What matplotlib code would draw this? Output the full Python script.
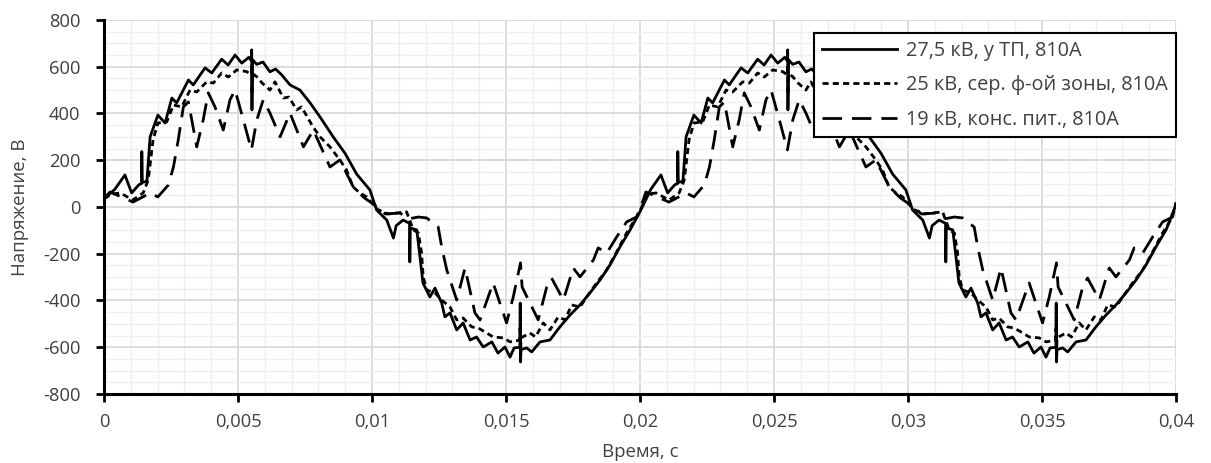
import matplotlib
matplotlib.use("Agg")
import matplotlib.pyplot as plt
from matplotlib.ticker import MultipleLocator, FixedLocator, FixedFormatter

plt.rcParams['font.family'] = ['Open Sans', 'DejaVu Sans']

# time in ms, voltage in V (two periods of 20 ms)
t_275 = [0.00, 0.40, 0.78, 1.03, 1.30, 1.40, 1.41, 1.43, 1.60, 1.72,
         2.01, 2.28, 2.53, 2.71, 3.15, 3.33, 3.77, 4.02, 4.39, 4.63,
         4.89, 5.14, 5.40, 5.50, 5.51, 5.52, 5.54, 5.70, 5.93, 6.19,
         6.40, 6.63, 6.94, 7.31, 7.69, 8.06, 8.55, 8.99, 9.43, 9.92,
         10.17, 10.55, 10.80, 10.90, 11.16, 11.40, 11.41, 11.43, 11.67, 11.79,
         11.90, 12.16, 12.35, 12.60, 12.72, 12.91, 13.16, 13.40, 13.66, 13.90,
         14.15, 14.47, 14.70, 14.96, 15.15, 15.30, 15.52, 15.53, 15.54, 15.56,
         15.77, 15.96, 16.27, 16.64, 17.01, 17.39, 17.76, 18.13, 18.51, 18.88,
         19.25, 19.63, 20.00,
         20.40, 20.78, 21.03, 21.30, 21.40, 21.41, 21.43, 21.60, 21.72,
         22.01, 22.28, 22.53, 22.71, 23.15, 23.33, 23.77, 24.02, 24.39, 24.63,
         24.89, 25.14, 25.40, 25.50, 25.51, 25.52, 25.54, 25.70, 25.93, 26.19,
         26.40, 26.63, 26.94, 27.31, 27.69, 28.06, 28.55, 28.99, 29.43, 29.92,
         30.17, 30.55, 30.80, 30.90, 31.16, 31.40, 31.41, 31.43, 31.67, 31.79,
         31.90, 32.16, 32.35, 32.60, 32.72, 32.91, 33.16, 33.40, 33.66, 33.90,
         34.15, 34.47, 34.70, 34.96, 35.15, 35.30, 35.52, 35.53, 35.54, 35.56,
         35.77, 35.96, 36.27, 36.64, 37.01, 37.39, 37.76, 38.13, 38.51, 38.88,
         39.25, 39.63, 40.00]
v_275 = [35, 75, 137, 60, 95, 100, 237, 105, 110, 300,
         393, 359, 466, 445, 543, 522, 595, 573, 632, 607,
         650, 615, 640, 625, 672, 415, 630, 610, 620, 578,
         590, 565, 522, 500, 445, 385, 300, 230, 140, 73,
         -13, -56, -133, -80, -56, -70, -235, -90, -98, -214,
         -325, -385, -347, -411, -470, -453, -526, -496, -569, -556,
         -599, -577, -625, -599, -642, -603, -600, -411, -663, -610,
         -603, -620, -577, -569, -513, -462, -419, -368, -312, -248,
         -171, -98, -20,
         75, 137, 60, 95, 100, 237, 105, 110, 300,
         393, 359, 466, 445, 543, 522, 595, 573, 632, 607,
         650, 615, 640, 625, 672, 415, 630, 610, 620, 578,
         590, 565, 522, 500, 445, 385, 300, 230, 140, 73,
         -13, -56, -133, -80, -56, -70, -235, -90, -98, -214,
         -325, -385, -347, -411, -470, -453, -526, -496, -569, -556,
         -599, -577, -625, -599, -642, -603, -600, -411, -663, -610,
         -603, -620, -577, -569, -513, -462, -419, -368, -312, -248,
         -171, -98, 10]

t_25 = [0.00, 0.30, 0.60, 1.08, 1.46, 1.65, 1.83, 2.01, 2.34, 2.59,
        2.90, 3.21, 3.46, 3.83, 4.08, 4.39, 4.64, 4.95, 5.32, 5.50,
        5.51, 5.52, 5.54, 5.70, 5.90, 6.19, 6.38, 6.69, 6.90, 7.19,
        7.37, 7.80, 8.06, 8.43, 8.80, 9.05, 9.29, 9.55, 9.80, 10.20,
        10.60, 10.92, 11.29, 11.54, 11.73, 11.85, 11.91, 12.04, 12.35, 12.60,
        12.91, 13.16, 13.40, 13.72, 13.97, 14.28, 14.52, 14.90, 15.15, 15.50,
        15.52, 15.54, 15.56, 15.89, 16.10, 16.39, 16.64, 16.95, 17.20, 17.45,
        17.76, 18.01, 18.38, 18.76, 19.13, 19.50, 19.87, 20.00,
        20.30, 20.60, 21.08, 21.46, 21.65, 21.83, 22.01, 22.34, 22.59,
        22.90, 23.21, 23.46, 23.83, 24.08, 24.39, 24.64, 24.95, 25.32, 25.50,
        25.51, 25.52, 25.54, 25.70, 25.90, 26.19, 26.38, 26.69, 26.90, 27.19,
        27.37, 27.80, 28.06, 28.43, 28.80, 29.05, 29.29, 29.55, 29.80, 30.20,
        30.60, 30.92, 31.29, 31.54, 31.73, 31.85, 31.91, 32.04, 32.35, 32.60,
        32.91, 33.16, 33.40, 33.72, 33.97, 34.28, 34.52, 34.90, 35.15, 35.50,
        35.52, 35.54, 35.56, 35.89, 36.10, 36.39, 36.64, 36.95, 37.20, 37.45,
        37.76, 38.01, 38.38, 38.76, 39.13, 39.50, 39.87, 40.00]
v_25 = [35, 55, 60, 30, 60, 115, 287, 359, 364, 436,
        428, 500, 492, 535, 530, 573, 556, 586, 579, 565,
        610, 480, 570, 557, 530, 500, 535, 466, 470, 415,
        428, 342, 300, 257, 201, 158, 86, 60, 43, -10,
        -30, -26, -21, -98, -111, -197, -299, -355, -368, -398,
        -428, -483, -475, -513, -518, -539, -556, -560, -577, -570,
        -520, -640, -560, -539, -556, -496, -526, -470, -483, -419,
        -428, -385, -325, -269, -192, -111, -43, -15,
        55, 60, 30, 60, 115, 287, 359, 364, 436,
        428, 500, 492, 535, 530, 573, 556, 586, 579, 565,
        610, 480, 570, 557, 530, 500, 535, 466, 470, 415,
        428, 342, 300, 257, 201, 158, 86, 60, 43, -10,
        -30, -26, -21, -98, -111, -197, -299, -355, -368, -398,
        -428, -483, -475, -513, -518, -539, -556, -560, -577, -570,
        -520, -640, -560, -539, -556, -496, -526, -470, -483, -419,
        -428, -385, -325, -269, -192, -111, -43, 15]

t_19 = [0.00, 0.22, 0.60, 1.08, 1.40, 1.72, 2.01, 2.40, 2.59, 2.77,
        2.96, 3.15, 3.46, 3.70, 3.89, 4.14, 4.45, 4.70, 4.89, 5.20,
        5.50, 5.70, 5.94, 6.19, 6.57, 6.94, 7.44, 7.81, 8.43, 8.80,
        9.30, 9.70, 10.20, 10.50, 11.04, 11.40, 11.73, 12.04, 12.47, 12.60,
        12.79, 13.16, 13.47, 13.84, 14.03, 14.52, 15.02, 15.27, 15.54, 15.60,
        16.20, 16.52, 16.70, 17.14, 17.51, 17.76, 18.26, 18.44, 18.76, 19.13,
        19.50, 19.87, 20.00,
        20.22, 20.60, 21.08, 21.40, 21.72, 22.01, 22.40, 22.59, 22.77,
        22.96, 23.15, 23.46, 23.70, 23.89, 24.14, 24.45, 24.70, 24.89, 25.20,
        25.50, 25.70, 25.94, 26.19, 26.57, 26.94, 27.44, 27.81, 28.43, 28.80,
        29.30, 29.70, 30.20, 30.50, 31.04, 31.40, 31.73, 32.04, 32.47, 32.60,
        32.79, 33.16, 33.47, 33.84, 34.03, 34.52, 35.02, 35.27, 35.54, 35.60,
        36.20, 36.52, 36.70, 37.14, 37.51, 37.76, 38.26, 38.44, 38.76, 39.13,
        39.50, 39.87, 40.00]
v_19 = [35, 64, 45, 21, 40, 60, 43, 94, 171, 287,
        428, 449, 257, 372, 488, 428, 329, 458, 500, 372,
        244, 372, 458, 402, 300, 402, 257, 329, 171, 201,
        86, 40, 0, -30, -26, -50, -43, -47, -86, -171,
        -270, -398, -261, -453, -483, -325, -496, -385, -239, -342,
        -483, -342, -304, -398, -261, -299, -227, -175, -197, -128,
        -64, -43, -10,
        64, 45, 21, 40, 60, 43, 94, 171, 287,
        428, 449, 257, 372, 488, 428, 329, 458, 500, 372,
        244, 372, 458, 402, 300, 402, 257, 329, 171, 201,
        86, 40, 0, -30, -26, -50, -43, -47, -86, -171,
        -270, -398, -261, -453, -483, -325, -496, -385, -239, -342,
        -483, -342, -304, -398, -261, -299, -227, -175, -197, -128,
        -64, -43, 20]

labels = ["27,5 кВ, у ТП, 810А", "25 кВ, сер. ф-ой зоны, 810А", "19 кВ, конс. пит., 810А"]
x_ticks = [0, 0.005, 0.01, 0.015, 0.02, 0.025, 0.03, 0.035, 0.04]
x_tick_labels = ["0", "0,005", "0,01", "0,015", "0,02", "0,025", "0,03", "0,035", "0,04"]
y_ticks = [-800, -600, -400, -200, 0, 200, 400, 600, 800]
y_tick_labels = ["-800", "-600", "-400", "-200", "0", "200", "400", "600", "800"]

fig = plt.figure(figsize=(12.11, 4.63), dpi=100)
ax = fig.add_axes([0.0859, 0.149, 0.8852, 0.808])

def sec(t_ms):
    return [t / 1000 for t in t_ms]

lw = 2.0
ax.plot(sec(t_275), v_275, color='black', lw=lw, label=labels[0])
ax.plot(sec(t_25), v_25, color='black', lw=lw, linestyle=(0, (2.2, 1.5)), label=labels[1])
ax.plot(sec(t_19), v_19, color='black', lw=lw, linestyle=(0, (7, 3.6)), label=labels[2])

ax.set_xlim(0, 0.04)
ax.set_ylim(-800, 800)
ax.xaxis.set_major_locator(FixedLocator(x_ticks))
ax.xaxis.set_major_formatter(FixedFormatter(x_tick_labels))
ax.yaxis.set_major_locator(FixedLocator(y_ticks))
ax.yaxis.set_major_formatter(FixedFormatter(y_tick_labels))
ax.xaxis.set_minor_locator(MultipleLocator(0.001))
ax.yaxis.set_minor_locator(MultipleLocator(50))

ax.grid(which='major', color='#d9d9d9', lw=1.3)
ax.grid(which='minor', color='#efefef', lw=1.0)
ax.set_axisbelow(True)

for s in ['top', 'right']:
    ax.spines[s].set_visible(False)
for s in ['left', 'bottom']:
    ax.spines[s].set_linewidth(2.2)
ax.tick_params(which='major', length=6, width=2, colors='black', labelcolor='#404040',
               labelsize=13.2)
ax.tick_params(axis='y', which='major', pad=11)
ax.tick_params(axis='x', which='major', pad=8)
ax.tick_params(which='minor', length=0)

ax.set_xlabel("Время, с", fontsize=13.4, color='#404040', labelpad=8)
ax.set_ylabel("Напряжение, В", fontsize=13.4, color='#404040', labelpad=10)

leg = ax.legend(loc='upper right', bbox_to_anchor=(1.0, 0.965), fontsize=14.3,
                handlelength=3.8, handletextpad=0.45, labelspacing=0.72,
                borderpad=0.4, fancybox=False, framealpha=1, borderaxespad=0)
leg.get_frame().set_edgecolor('black')
leg.get_frame().set_linewidth(1.5)
for txt in leg.get_texts():
    txt.set_color('#404040')

fig.savefig("out.png", dpi=100)
